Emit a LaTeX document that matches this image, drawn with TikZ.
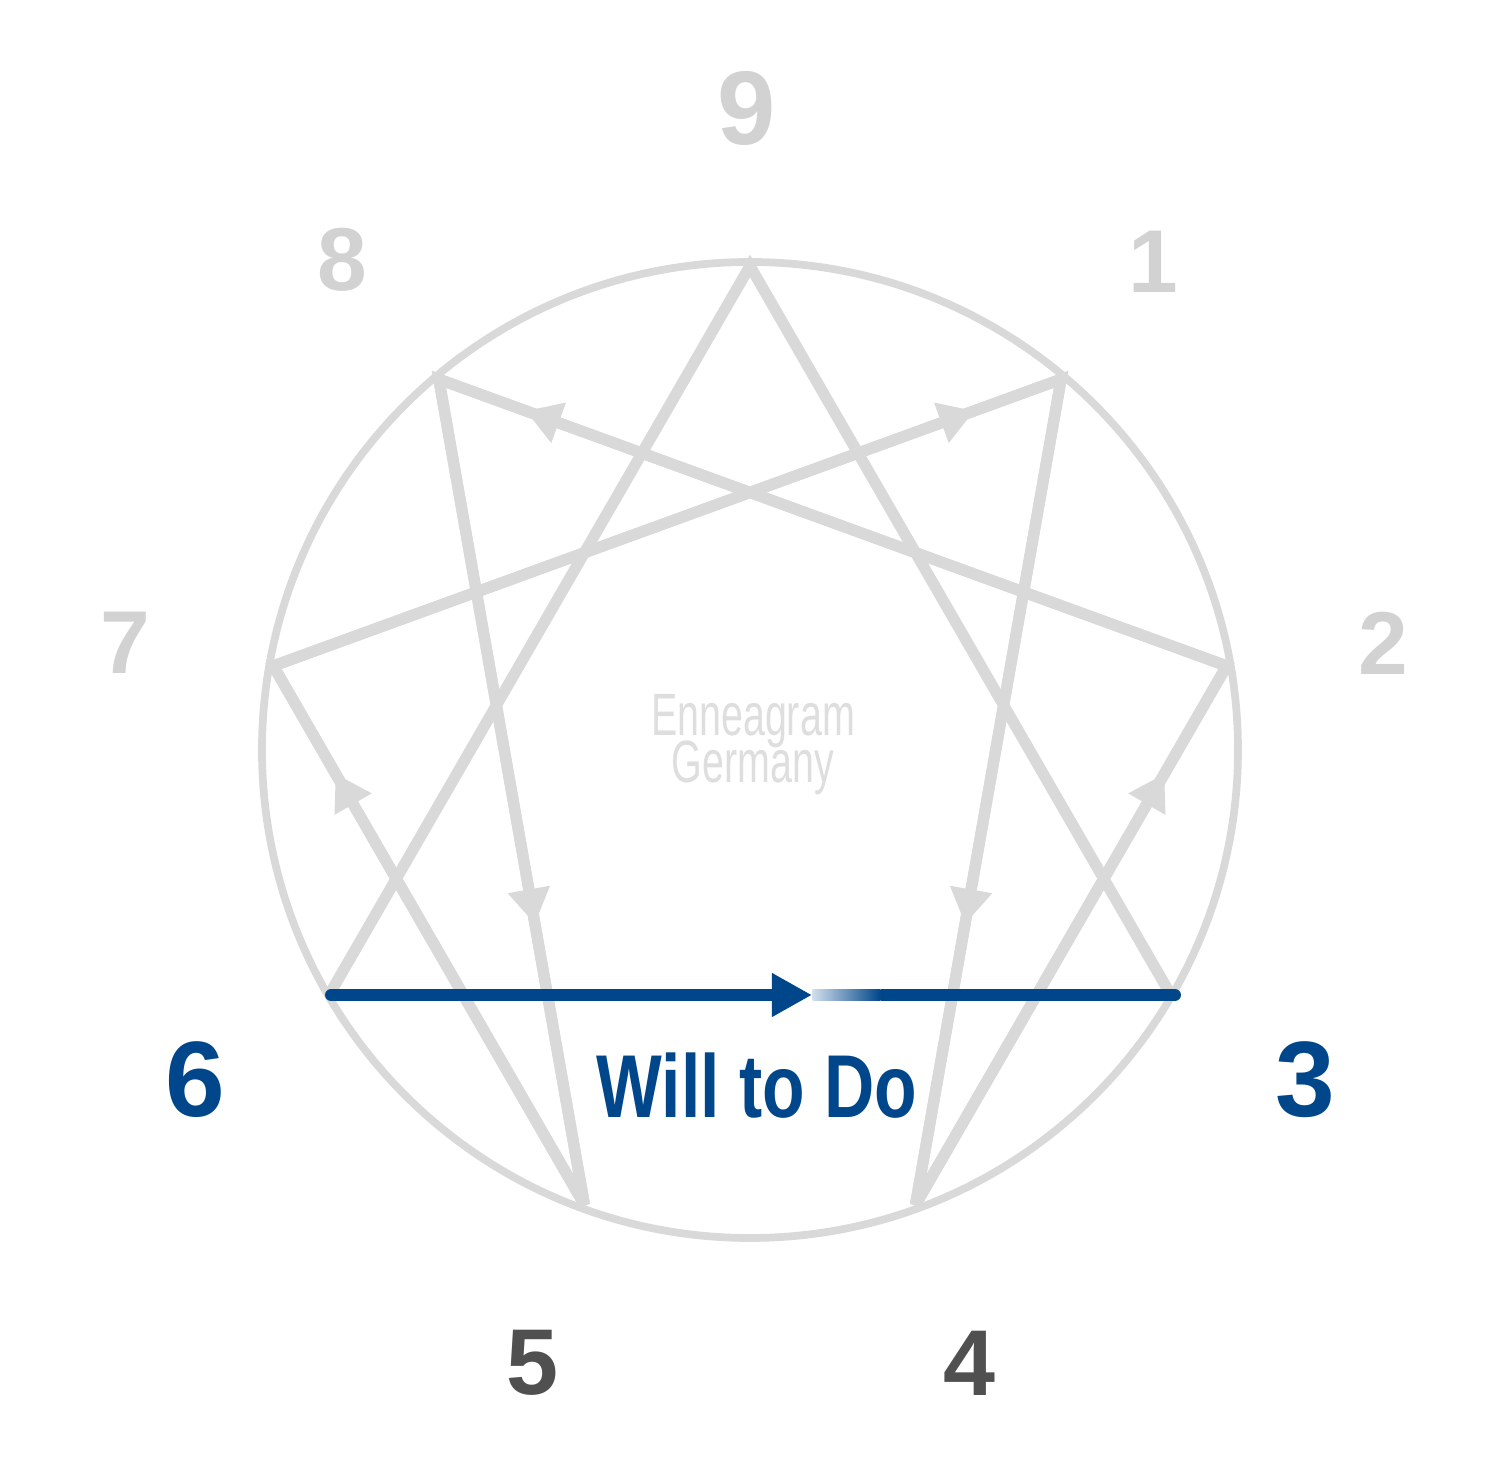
\documentclass[tikz,border=0pt]{standalone}
\usepackage{fontspec}
\setmainfont{Liberation Sans}
\newfontfamily\numfont{Liberation Sans Bold}
\newfontfamily\titlefont[FakeStretch=0.78]{Liberation Sans Bold}
\newfontfamily\brandfont[FakeStretch=0.66]{Liberation Sans}
\usetikzlibrary{arrows.meta,decorations.markings}
\definecolor{linegray}{HTML}{D9D9D9}
\definecolor{numgray}{HTML}{D2D2D2}
\definecolor{brandgray}{HTML}{DEDEDE}
\definecolor{darknum}{HTML}{505050}
\definecolor{willblue}{HTML}{00468A}

\begin{document}
\begin{tikzpicture}
	[line join=miter, miter limit=2.5,
	ring/.style = {
		draw=linegray,
		line width=2.2pt
	},
	figline/.style = {
		draw=linegray,
		line width=3.2pt
	},
	midarrow/.style = {
		postaction={decorate},
		decoration={markings,
			mark=at position #1 with {\arrow{Triangle[length=10pt,width=11.5pt]}}}
	},
	willline/.style = {
		draw=willblue,
		line width=3.4pt
	},
	fadebox/.style = {
		inner sep=0pt,
		minimum width=0.68cm,
		minimum height=3.4pt,
		left color=willblue!18,
		right color=willblue
	},
	lightnum/.style = {
		text=numgray,
		font=\numfont\fontsize{25.4pt}{26pt}\selectfont
	},
	topnum/.style = {
		text=numgray,
		font=\numfont\fontsize{29.8pt}{30pt}\selectfont
	},
	darknumber/.style = {
		text=darknum,
		font=\numfont\fontsize{26.6pt}{27pt}\selectfont
	},
	bluenum/.style = {
		text=willblue,
		font=\numfont\fontsize{30.5pt}{31pt}\selectfont
	}]
	
	\useasboundingbox (-7.5,-7.28) rectangle (7.5,7.5);
	
	%Draw points
	\coordinate (p9) at (90:4.84);
	\coordinate (p1) at (50:4.84);
	\coordinate (p2) at (10:4.84);
	\coordinate (p3) at (-30:4.84);
	\coordinate (p4) at (-70:4.84);
	\coordinate (p5) at (-110:4.84);
	\coordinate (p6) at (-150:4.84);
	\coordinate (p7) at (170:4.84);
	\coordinate (p8) at (130:4.84);
	
	\coordinate (w6) at (-4.19,-2.45);
	\coordinate (w3) at (4.31,-2.45);
	\coordinate (tip) at (0.62,-2.45);
	
	%Draw figure
	\draw[ring] (0,0) circle (4.88);
	\draw[figline] (p6) -- (p9) -- (p3);
	\draw[figline] (p1) -- (p4) -- (p2) -- (p8) -- (p5) -- (p7) -- cycle;
	
	\path[figline,midarrow=0.66] (p1) -- (p4);
	\path[figline,midarrow=0.80] (p4) -- (p2);
	\path[figline,midarrow=0.89] (p2) -- (p8);
	\path[figline,midarrow=0.66] (p8) -- (p5);
	\path[figline,midarrow=0.80] (p5) -- (p7);
	\path[figline,midarrow=0.89] (p7) -- (p1);
	
	%Draw line 6 to 3
	\node[fadebox, anchor=west] at (tip) (fade) {};
	\draw[willline,line cap=round,-{Triangle[length=11.4pt,width=11.7pt]}] (w6) -- (tip);
	\draw[willline,-{Round Cap}] (fade.east) -- (w3);
	
	%Draw labels
	\node[topnum] at (-0.03,6.42) (n9) {9};
	\node[lightnum] at (4.03,4.88) (n1) {1};
	\node[lightnum] at (6.33,1.07) (n2) {2};
	\node[bluenum] at (5.55,-3.30) (n3) {3};
	\node[darknumber] at (2.20,-6.13) (n4) {4};
	\node[darknumber] at (-2.17,-6.13) (n5) {5};
	\node[bluenum] at (-5.55,-3.30) (n6) {6};
	\node[lightnum] at (-6.25,1.07) (n7) {7};
	\node[lightnum] at (-4.08,4.90) (n8) {8};
	
	\node[text=willblue, font=\titlefont\fontsize{25.4pt}{26pt}\selectfont] at (0.07,-3.36) (will) {Will to Do};
	\node[text=brandgray, align=center, font={\brandfont\fontsize{17pt}{13.4pt}\selectfont\lineskiplimit=-20pt\relax}] at (0.03,0.05) (brand) {Enneagram\\Germany};
	
\end{tikzpicture}
\end{document}
